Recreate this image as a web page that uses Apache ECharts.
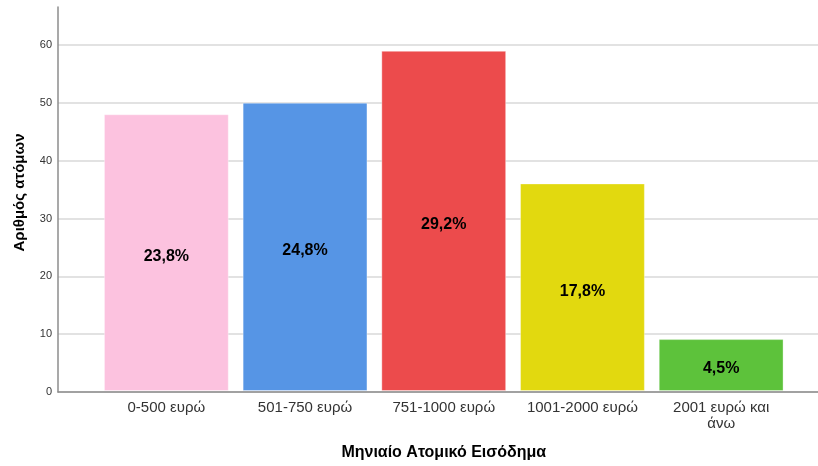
<!DOCTYPE html>
<html><head><meta charset="utf-8">
<script src="https://cdn.jsdelivr.net/npm/echarts@6/dist/echarts.min.js"></script>
<style>html,body{margin:0;padding:0;background:#fff}#c{width:818px;height:466px}</style>
</head><body><div id="c"></div>
<script>
const categories = ['0-500 ευρώ', '501-750 ευρώ', '751-1000 ευρώ', '1001-2000 ευρώ', '2001 ευρώ και\nάνω'];
const counts = [48, 50, 59, 36, 9];
const percentLabels = ['23,8%', '24,8%', '29,2%', '17,8%', '4,5%'];
const barColors = ['#fcc2df', '#5695e5', '#ec4b4c', '#e2d90f', '#5dc23b'];
const yTicks = [0, 10, 20, 30, 40, 50, 60];
const yMax = 66.6;
const FONT = '"Liberation Sans", Arial, sans-serif';

const chart = echarts.init(document.getElementById('c'));
chart.setOption({
  animation: false,
  textStyle: { fontFamily: FONT },
  grid: [
    { left: 58, right: 0, top: 7, bottom: 74 },
    { left: 97, right: 27.5, top: 7, bottom: 74 }
  ],
  xAxis: [
    { gridIndex: 0, type: 'category', data: [''], axisLine: { show: true, lineStyle: { color: '#8c8c8c', width: 1.5 } },
      axisTick: { show: false }, axisLabel: { show: false }, splitLine: { show: false } },
    { gridIndex: 1, type: 'category', data: categories, axisLine: { show: false }, axisTick: { show: false },
      axisLabel: { color: '#333', fontSize: 15, margin: 9, lineHeight: 16, fontFamily: FONT, interval: 0, hideOverlap: false },
      name: 'Μηνιαίο Ατομικό Εισόδημα', nameLocation: 'middle', nameGap: 54,
      nameTextStyle: { color: '#000', fontSize: 16, fontWeight: 'bold', fontFamily: FONT } }
  ],
  yAxis: [
    { gridIndex: 0, type: 'value', min: 0, max: yMax, interval: 10,
      axisLine: { show: true, lineStyle: { color: '#8c8c8c', width: 1.5 } }, axisTick: { show: false },
      axisLabel: { color: '#333', fontSize: 11, margin: 6, fontFamily: FONT, showMaxLabel: false,
        formatter: v => (yTicks.indexOf(v) >= 0 ? String(v) : '') },
      splitLine: { show: true, showMaxLine: false, lineStyle: { color: '#d9d9d9', width: 1.5 } },
      name: 'Αριθμός ατόμων', nameLocation: 'middle', nameGap: 31,
      nameTextStyle: { color: '#000', fontSize: 15, fontWeight: 'bold', fontFamily: FONT, padding: [0, 0, 0, 14] } },
    { gridIndex: 1, type: 'value', min: 0, max: yMax, interval: 10, show: false, splitLine: { show: false } }
  ],
  series: [{
    type: 'bar', xAxisIndex: 1, yAxisIndex: 1, barCategoryGap: '10%',
    data: counts.map((v, i) => ({ value: v, itemStyle: { color: barColors[i], borderColor: 'rgba(255,255,255,0.35)', borderWidth: 1 } })),
    label: { show: true, position: 'inside', offset: [0, 4], color: '#000', fontSize: 16, fontWeight: 'bold', fontFamily: FONT,
      formatter: p => percentLabels[p.dataIndex] }
  }]
});
</script></body></html>
